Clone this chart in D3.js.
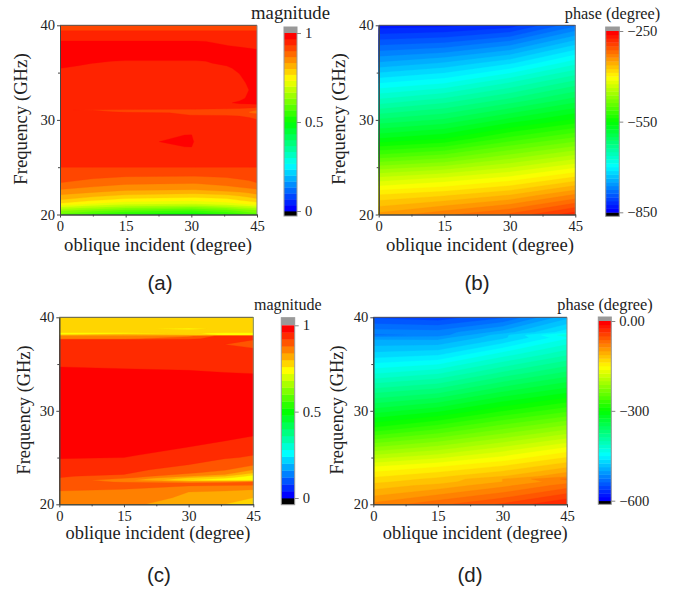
<!DOCTYPE html>
<html><head><meta charset="utf-8">
<script src="https://cdnjs.cloudflare.com/ajax/libs/d3/7.8.5/d3.min.js"></script>
<style>html,body{margin:0;padding:0;background:#fff}svg{display:block}</style>
</head><body><svg id="chart" width="684" height="592"></svg>
<script>
// ---------- data ----------
const xTicks = [0, 15, 30, 45];
const xMinor = [7.5, 22.5, 37.5];
const yTicks = [20, 30, 40];
const yMinor = [25, 35];
const xTitle = "oblique incident (degree)";
const yTitle = "Frequency (GHz)";

const anglesA = [0, 7.5, 15, 30, 31, 38, 41, 43.2, 45];
const freqsA = [40, 39.45, 39.35, 38.4, 38.3, 37.87, 37.7, 37.57, 37.46, 37.3, 36.4, 36.2, 36, 35.73, 35.45, 34.9, 33.9, 33.16, 32.3, 31.8, 31.65, 31.5, 31.3, 31.04, 30.86, 30.75, 30.5, 30.05, 29.9, 28.6, 28.4, 27.7, 27.16, 26.95, 25.05, 24.95, 24.05, 23.35, 22.64, 22.08, 21.55, 21.13, 20.5, 20];
const magnitudeA = [
 [.925,.925,.925,.925,.925,.925,.925,.925,.925],
 [.93,.93,.93,.93,.93,.93,.93,.93,.93],
 [.945,.945,.945,.945,.945,.945,.945,.945,.945],
 [.96,.96,.96,.96,.96,.958,.957,.956,.955],
 [.972,.972,.972,.972,.97,.96,.958,.957,.956],
 [.98,.98,.98,.98,.98,.967,.96,.958,.957],
 [.98,.98,.98,.98,.98,.975,.967,.96,.958],
 [.98,.98,.98,.98,.98,.98,.975,.967,.96],
 [.98,.98,.98,.98,.98,.98,.98,.975,.967],
 [.98,.98,.98,.98,.98,.98,.98,.98,.98],
 [.98,.98,.98,.98,.98,.98,.98,.98,.98],
 [.98,.975,.96,.96,.96,.98,.98,.98,.98],
 [.98,.967,.957,.957,.957,.975,.98,.98,.98],
 [.975,.96,.955,.955,.955,.967,.98,.98,.98],
 [.967,.955,.955,.955,.955,.96,.975,.98,.98],
 [.955,.955,.955,.955,.955,.955,.967,.98,.98],
 [.955,.955,.955,.955,.955,.955,.957,.972,.98],
 [.955,.955,.955,.955,.955,.955,.955,.967,.98],
 [.955,.955,.955,.955,.955,.955,.955,.975,.98],
 [.955,.955,.955,.955,.955,.96,.975,.98,.98],
 [.955,.955,.955,.955,.955,.955,.96,.962,.967],
 [.955,.955,.955,.955,.955,.955,.955,.955,.955],
 [.955,.955,.955,.955,.955,.95,.945,.94,.933],
 [.935,.931,.928,.92,.92,.915,.91,.905,.90],
 [.955,.945,.925,.925,.925,.92,.91,.90,.89],
 [.955,.95,.94,.93,.93,.925,.915,.90,.885],
 [.955,.955,.955,.933,.933,.932,.93,.925,.92],
 [.955,.955,.955,.955,.955,.95,.945,.94,.933],
 [.955,.955,.955,.955,.955,.955,.955,.955,.955],
 [.955,.955,.955,.955,.955,.955,.955,.955,.955],
 [.955,.955,.955,.968,.955,.955,.955,.955,.955],
 [.955,.955,.958,.975,.96,.955,.955,.955,.955],
 [.955,.955,.955,.968,.955,.955,.955,.955,.955],
 [.955,.955,.955,.955,.955,.955,.955,.955,.955],
 [.94,.94,.94,.94,.94,.94,.94,.94,.94],
 [.93,.93,.93,.93,.93,.93,.93,.93,.93],
 [.915,.908,.902,.90,.90,.905,.908,.91,.912],
 [.90,.887,.875,.87,.87,.88,.89,.895,.90],
 [.8667,.853,.84,.835,.836,.85,.855,.86,.865],
 [.8333,.817,.80,.79,.79,.80,.81,.82,.83],
 [.80,.775,.755,.745,.746,.755,.77,.78,.79],
 [.76,.73,.71,.70,.70,.72,.73,.74,.75],
 [.65,.625,.60,.575,.58,.60,.62,.63,.64],
 [.59,.55,.52,.50,.50,.53,.55,.57,.58]
];

const anglesB = [0, 15, 30, 45];
const freqsB = [40, 38, 36, 34, 32, 30, 28, 26, 24, 22, 20];
const phaseB = [
 [-832,-829,-820,-778],
 [-790,-784,-766,-727],
 [-748,-736,-715,-679],
 [-703,-691,-664,-634],
 [-658,-643,-619,-592],
 [-610,-598,-571,-547],
 [-562,-550,-520,-496],
 [-502,-490,-466,-442],
 [-439,-427,-412,-388],
 [-385,-376,-361,-334],
 [-346,-328,-310,-280]
];

const anglesC = [0, 15, 30, 38.4, 45];
const freqsC = [40, 38.9, 38.77, 38.62, 38.4, 38.3, 38.15, 38.05, 38, 37.7, 37.58, 37.1, 36.7, 36.5, 34.75, 34.69, 34.5, 34.33, 34.1, 33.97, 33.8, 27.5, 27.3, 26.78, 26.13, 25.24, 25, 24.88, 24.24, 23.7, 23.35, 23.2, 23, 22.85, 22.78, 22.57, 22.39, 22.2, 21.96, 21.43, 21.32, 20.71, 20];
const magnitudeC = [
 [.78,.78,.78,.78,.78],
 [.78,.78,.78,.78,.78],
 [.78,.78,.74,.78,.78],
 [.78,.78,.78,.78,.78],
 [.78,.78,.78,.78,.78],
 [.74,.74,.77,.74,.74],
 [.76,.80,.79,.74,.74],
 [.82,.83,.81,.76,.74],
 [.86,.86,.87,.94,.94],
 [.87,.87,.91,.94,.94],
 [.94,.94,.94,.94,.92],
 [.94,.94,.94,.92,.90],
 [.94,.94,.94,.94,.92],
 [.94,.94,.94,.94,.94],
 [.945,.94,.94,.94,.94],
 [.96,.945,.94,.94,.94],
 [.975,.96,.945,.94,.94],
 [.98,.975,.96,.945,.94],
 [.98,.98,.975,.96,.945],
 [.98,.98,.98,.975,.96],
 [.98,.98,.98,.98,.98],
 [.98,.98,.98,.98,.98],
 [.98,.98,.98,.97,.96],
 [.98,.98,.97,.96,.95],
 [.98,.98,.96,.95,.94],
 [.975,.965,.94,.93,.92],
 [.965,.96,.935,.925,.915],
 [.96,.955,.93,.92,.91],
 [.95,.94,.92,.91,.886],
 [.94,.93,.905,.885,.84],
 [.93,.925,.885,.86,.80],
 [.925,.92,.87,.84,.77],
 [.923,.91,.84,.80,.745],
 [.92,.895,.80,.77,.73],
 [.915,.88,.79,.76,.725],
 [.905,.855,.76,.75,.745],
 [.905,.875,.85,.86,.88],
 [.90,.90,.90,.90,.90],
 [.895,.89,.88,.875,.87],
 [.88,.875,.845,.84,.83],
 [.875,.875,.84,.835,.825],
 [.86,.87,.83,.82,.80],
 [.85,.85,.82,.80,.77]
];

const anglesD = [0, 15, 30, 45];
const freqsD = [40, 38.4, 38.1, 37.8, 36, 34, 32, 30, 28, 26, 24, 23, 22.7, 22.4, 22, 20];
const phaseD = [
 [-552,-558,-540,-492],
 [-518,-520,-495,-455],
 [-530,-520,-480,-430],
 [-504,-505,-478,-440],
 [-470,-464,-431,-402],
 [-426,-414,-384,-358],
 [-378,-366,-337,-315],
 [-332,-316,-289,-266],
 [-282,-262,-237,-213],
 [-222,-206,-184,-160],
 [-162,-150,-135,-114],
 [-140,-128,-113,-90],
 [-133,-122,-100,-72],
 [-128,-118,-100,-80],
 [-120,-108,-91,-69],
 [-84,-66,-48,-24]
];

const magnitudeTicks = [0, 0.5, 1];
const phaseTicksB = [-850, -550, -250];
const phaseTicksD = [-600, -300, 0];

// ---------- layout and drawing ----------
const fmtMag = d => String(d);
const fmtPhase = d => String(d).replace("-", "\u2212");
const fmtPhaseD = d => d === 0 ? "0.00" : String(d).replace("-", "\u2212");
const panels = [
 {id:"a", angles:anglesA, freqs:freqsA, values:magnitudeA, domain:[0,1], levels:30, ticks:magnitudeTicks, fmt:fmtMag,
  plot:[60,257,214.5,25.3], bar:[284,297,211,33,27,216], title:"magnitude", tsize:18.7, tpos:[290.5,18.5],
  xlab:[158,251], xsize:18.7, ylab:[27,119], ysize:18.7, tag:"(a)", tagpos:[160,290]},
 {id:"b", angles:anglesB, freqs:freqsB, values:phaseB, domain:[-850,-250], levels:48, ticks:phaseTicksB, fmt:fmtPhase,
  plot:[378.7,575.3,214.5,25.3], bar:[605.7,619.3,212.3,31,27,216.3], title:"phase (degree)", tsize:16.3, tpos:[612.5,19],
  xlab:[480,251], xsize:18.7, ylab:[345,119], ysize:18.7, tag:"(b)", tagpos:[477,290]},
 {id:"c", angles:anglesC, freqs:freqsC, values:magnitudeC, domain:[0,1], levels:25, ticks:magnitudeTicks, fmt:fmtMag,
  plot:[59.3,253.3,504.3,317.3], bar:[281.3,294.7,498,325.3,317.7,504.7], title:"magnitude", tsize:16, tpos:[287.8,310],
  xlab:[158,539], xsize:18.4, ylab:[30,410], ysize:18.4, tag:"(c)", tagpos:[159,582]},
 {id:"d", angles:anglesD, freqs:freqsD, values:phaseD, domain:[-600,0], levels:48, ticks:phaseTicksD, fmt:fmtPhaseD,
  plot:[373.3,567,504.3,317.3], bar:[598.3,611.3,500.7,321,317,504.3], title:"phase (degree)", tsize:16.3, tpos:[605,310],
  xlab:[475.3,539], xsize:18.4, ylab:[343,410], ysize:18.4, tag:"(d)", tagpos:[470,582]}
];

const rainbow = d3.scaleLinear().domain([0,.25,.5,.75,1])
  .range(["#0000ff","#00ffff","#00ff00","#ffff00","#ff0000"]).clamp(true);
const serif = "'Liberation Serif','Times New Roman',serif";
const sans = "'Liberation Sans',Arial,sans-serif";
const ink = "#222";
const svg = d3.select("#chart");

panels.forEach(p => {
  const [x0,x1,y0,y1] = p.plot;
  const g = svg.append("g").attr("id","panel-"+p.id);
  const x = d3.scaleLinear().domain([0,45]).range([x0,x1]);
  const y = d3.scaleLinear().domain([20,40]).range([y0,y1]);
  const [lo,hi] = p.domain;
  const step = (hi-lo)/p.levels;
  const thresholds = d3.range(p.levels).map(i => lo + i*step);
  const colour = v => rainbow((v-lo)/step/(p.levels-1));

  // contour grid: rows ascending in frequency
  const rows = p.values.slice().reverse();
  const freqAsc = p.freqs.slice().reverse();
  const nx = p.angles.length, ny = rows.length;
  const grid = rows.flat();
  const cx = d3.scaleLinear().domain(p.angles.map((_,i)=>i+.5)).range(p.angles);
  const cy = d3.scaleLinear().domain(freqAsc.map((_,i)=>i+.5)).range(freqAsc);
  const path = d3.geoPath(d3.geoTransform({point(a,b){ this.stream.point(x(cx(a)), y(cy(b))); }}));
  const contours = d3.contours().size([nx,ny]).smooth(true).thresholds(thresholds)(grid);

  g.append("clipPath").attr("id","clip-"+p.id).append("rect")
    .attr("x",x0).attr("y",y1).attr("width",x1-x0).attr("height",y0-y1);
  g.append("g").attr("clip-path",`url(#clip-${p.id})`)
    .selectAll("path").data(contours).join("path")
    .attr("d",path).attr("fill",d=>colour(d.value))
    .attr("stroke",d=>colour(d.value)).attr("stroke-width",.3);

  // frame
  g.append("path").attr("d",`M${x0},${y1}H${x1}`).attr("stroke","#555").attr("fill","none");
  g.append("path").attr("d",`M${x1},${y1}V${y0}`).attr("stroke","#888").attr("fill","none");

  // axes
  const style = a => {
    a.select(".domain").attr("stroke","#444");
    a.selectAll("line").attr("stroke","#444");
    a.selectAll("text").attr("font-family",serif).attr("font-size",14.6).attr("fill",ink);
  };
  g.append("g").attr("transform",`translate(0,${y0})`)
    .call(d3.axisBottom(x).tickValues(xMinor).tickSize(2).tickSizeOuter(0).tickFormat("")).call(style);
  g.append("g").attr("transform",`translate(0,${y0})`)
    .call(d3.axisBottom(x).tickValues(xTicks).tickSize(3).tickPadding(3).tickSizeOuter(0)).call(style);
  g.append("g").attr("transform",`translate(${x0},0)`)
    .call(d3.axisLeft(y).tickValues(yMinor).tickSize(2).tickSizeOuter(0).tickFormat("")).call(style);
  g.append("g").attr("transform",`translate(${x0},0)`)
    .call(d3.axisLeft(y).tickValues(yTicks).tickSize(3).tickPadding(2).tickSizeOuter(0)).call(style);

  // colour bar
  const [bx0,bx1,by0,by1,btop,bbot] = p.bar;
  const by = d3.scaleLinear().domain([lo,hi]).range([by0,by1]);
  const bar = g.append("g");
  bar.append("rect").attr("x",bx0).attr("y",btop).attr("width",bx1-bx0).attr("height",by1-btop).attr("fill","#999");
  bar.append("rect").attr("x",bx0).attr("y",by0).attr("width",bx1-bx0).attr("height",bbot-by0).attr("fill","#000");
  bar.selectAll("rect.band").data(thresholds).join("rect").attr("class","band")
    .attr("x",bx0).attr("width",bx1-bx0)
    .attr("y",d=>by(d+step)).attr("height",d=>by(d)-by(d+step)+.4)
    .attr("fill",d=>colour(d));
  bar.append("rect").attr("x",bx0).attr("y",btop).attr("width",bx1-bx0).attr("height",bbot-btop)
    .attr("fill","none").attr("stroke","#999");
  const barAxis = g.append("g").attr("transform",`translate(${bx1},0)`)
    .call(d3.axisRight(by).tickValues(p.ticks).tickSize(4).tickPadding(4).tickSizeOuter(0).tickFormat(p.fmt));
  barAxis.select(".domain").remove();
  barAxis.selectAll("line").attr("stroke","#888");
  barAxis.selectAll("text").attr("font-family",serif).attr("font-size",14.6).attr("fill",ink);

  // texts
  const text = (s,tx,ty,size,fam) => g.append("text").attr("x",tx).attr("y",ty).attr("text-anchor","middle")
    .attr("font-family",fam).attr("font-size",size).attr("fill",ink).text(s);
  text(p.title,p.tpos[0],p.tpos[1],p.tsize,serif);
  text(xTitle,p.xlab[0],p.xlab[1],p.xsize,serif);
  text(yTitle,0,0,p.ysize,serif).attr("x",null).attr("y",null)
    .attr("transform",`translate(${p.ylab[0]},${p.ylab[1]}) rotate(-90)`);
  text(p.tag,p.tagpos[0],p.tagpos[1],20.5,sans);
});
</script></body></html>
